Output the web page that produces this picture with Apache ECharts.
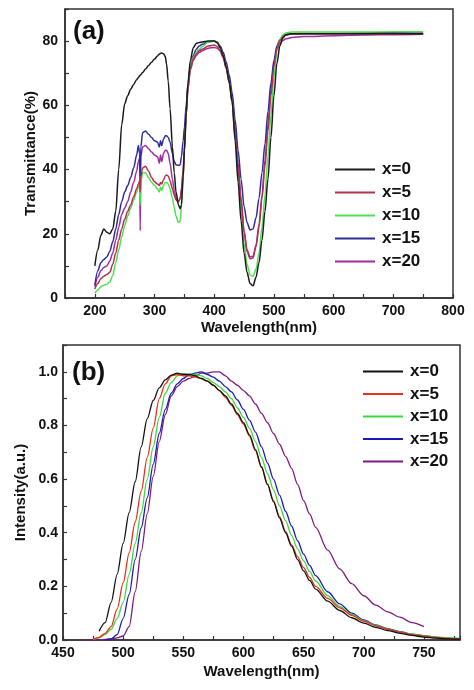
<!DOCTYPE html>
<html><head><meta charset="utf-8">
<script src="https://cdn.jsdelivr.net/npm/echarts@6/dist/echarts.min.js"></script>
<style>html,body{margin:0;padding:0;background:#fff}#c{width:474px;height:690px}</style>
</head><body><div id="c"></div>
<script>
// ---------- Panel (a): transmittance ----------
var wlA = [200,205,210,215,220,225,230,235,240,245,250,255,260,265,270,273,275,276,277,280,285,290,295,300,305,308,310,312,315,318,320,323,326,330,333,336,340,343,345,348,350,353,356,360,365,370,375,380,390,400,405,410,415,420,425,430,435,440,445,450,455,460,465,470,475,480,485,490,495,500,505,510,515,520,530,550,600,650,700,750];
var tA_x0 = [10,15,19.5,21.5,20.5,20,21.5,27,40,54,60.5,63,65,66.5,68,68.7,69.2,69.4,69.6,70.2,71.3,72.4,73.4,74.4,75.4,75.9,76.2,76.3,76.1,75.2,73,67.5,59,47,39,33,29,27.8,29,38,46,58,67,74,78,79.3,79.6,79.7,80,80,79.5,78,75.5,72,67.5,61,49,36,24,14,8,4.5,3.8,6.5,11,18,27,37,50,63,73,78.5,81,82,82.3,82.3,82.3,82.3,82.4,82.3];
var tA_x5 = [2.8,4.5,6,6.8,7.3,8,10.5,14,18,21.5,24.5,27,29,31.5,34,35.5,36.5,33,37.5,40.5,41,39.5,37.5,36.2,35.5,35,36,35.5,36.8,38,38.3,38,36.5,34,32,30.5,30,31,33,39,46,57,65.5,71.5,74.5,76,77,77.5,78.5,78.8,78.3,77,74.8,71.5,67,61,51,40,30,20.5,14.5,12.2,12.5,16,22,31,41,52,63,72,77.5,80,81.3,82,82.2,82.3,82.3,82.3,82.3,82.3];
var tA_x10 = [1.5,2.5,3.5,4,4.3,5,7,11,15,19,22.5,25.5,28,30.5,33,34.5,35.5,29,36,39,39,37.5,36,35,34,33,34.5,33.5,35,36,36,35.5,34,31,28,25.5,23.5,24,28,37,45,57,66,72,75,76.5,77.5,78.3,79.8,80,79.5,78,75.5,72,67.5,61,50,38,27,17,10.5,7.2,6.8,9,14,22,32,44,57,69,77,80.5,82,82.5,82.8,82.8,82.8,82.8,82.9,82.9];
var tA_x15 = [4,8.5,11,12,12.8,14.5,17.5,21.5,26,30,33,35,37.5,40.5,44.5,47.5,45,38,47,51.5,52,51,50,49,48.5,47,49,47.5,49.5,50.5,50.5,50,48.5,45,42.5,41.5,41.3,41.5,44,49,53,60,66.5,72,75.5,77.5,78.5,79,79.8,80,79.7,78.5,76.5,73.5,69.5,64,55.5,46,37,28.5,23.5,21.2,21.5,25,31,39,48,58,67,74,78.5,80.5,81.5,82,82.3,82.4,82.4,82.5,82.5,82.5];
var tA_x20 = [3.5,6.5,8.5,9.5,10,11.5,14,18,22,26,28,30,33,36,39.5,42.5,43.5,21,44,47,47.5,46.5,45.5,44.5,44,42,44.5,42.5,45,46,46,45,42,37,33.5,31,30,31,34,40,47,57,65,71,74,75.5,76.5,77,77.8,78,77.8,77,75,72,68,62.5,53,42,31,21,15,12.8,13,16.5,23,32,43,54,65,73,77.5,79.3,80.2,80.7,81.1,81.4,81.7,81.9,82,82.1];

// ---------- Panel (b): intensity ----------
var wlB = [470,475,480,485,490,495,500,505,510,515,520,525,530,535,540,545,550,555,560,565,570,575,580,585,590,595,600,605,610,615,620,625,630,635,640,645,650,655,660,670,680,690,700,710,720,730,740,750,760,770,780];
var iB_x0 = [null,null,0.033,0.065,0.14,0.245,0.36,0.475,0.59,0.72,0.825,0.893,0.94,0.97,0.988,0.995,0.99,0.99,0.985,0.975,0.965,0.95,0.93,0.91,0.88,0.845,0.81,0.765,0.71,0.645,0.58,0.515,0.455,0.4,0.35,0.3,0.258,0.222,0.19,0.145,0.11,0.083,0.063,0.047,0.035,0.025,0.017,0.011,0.007,0.004,0.003];
var iB_x5 = [null,0.003,0.01,0.025,0.05,0.115,0.213,0.325,0.44,0.555,0.68,0.79,0.9,0.955,0.985,0.99,0.985,0.985,0.98,0.975,0.965,0.95,0.93,0.905,0.875,0.84,0.805,0.76,0.705,0.645,0.58,0.52,0.46,0.405,0.355,0.31,0.27,0.233,0.2,0.155,0.12,0.092,0.07,0.053,0.04,0.029,0.02,0.014,0.009,0.006,0.004];
var iB_x10 = [null,0.002,0.008,0.02,0.04,0.08,0.14,0.245,0.36,0.475,0.6,0.72,0.83,0.92,0.96,0.985,0.993,0.99,0.99,0.985,0.975,0.96,0.945,0.925,0.9,0.865,0.83,0.79,0.74,0.68,0.62,0.56,0.5,0.445,0.39,0.34,0.295,0.255,0.22,0.165,0.125,0.095,0.072,0.054,0.04,0.03,0.022,0.016,0.011,0.008,0.006];
var iB_x15 = [null,null,null,0,0.004,0.02,0.08,0.17,0.3,0.418,0.53,0.655,0.77,0.86,0.92,0.955,0.975,0.99,0.995,1.0,0.99,0.98,0.965,0.945,0.925,0.895,0.86,0.82,0.775,0.72,0.66,0.6,0.54,0.48,0.425,0.37,0.32,0.278,0.24,0.18,0.135,0.1,0.075,0.056,0.042,0.031,0.022,0.016,0.011,0.007,0.005];
var iB_x20 = [0,0,0.001,0.002,0.004,0.008,0.015,0.05,0.18,0.33,0.47,0.61,0.74,0.84,0.91,0.945,0.965,0.975,0.985,0.995,0.995,1.0,1.0,0.985,0.965,0.95,0.93,0.91,0.88,0.845,0.81,0.77,0.73,0.685,0.64,0.58,0.52,0.47,0.42,0.335,0.265,0.21,0.165,0.13,0.105,0.085,0.065,0.05,null,null,null];

var names = ['x=0','x=5','x=10','x=15','x=20'];
var colorsA = ['#1a1a1a','#b3304e','#4fe04f','#2c2c9c','#a02ca0'];
var colorsB = ['#111111','#e8301c','#3cd83c','#1a1ab4','#7e1a80'];
var seriesA = [tA_x0,tA_x5,tA_x10,tA_x15,tA_x20];
var seriesB = [iB_x0,iB_x5,iB_x10,iB_x15,iB_x20];

var FF = '"Liberation Sans", Arial, sans-serif';
function pairs(xs, ys){ var out=[]; for(var i=0;i<xs.length;i++){ if(ys[i]!==null) out.push([xs[i], ys[i]]); } return out; }

var series = [];
for (var k=0;k<5;k++){
  series.push({type:'line', name:'a:'+names[k], xAxisIndex:0, yAxisIndex:0, data:pairs(wlA, seriesA[k]),
    symbol:'none', smooth:0.3, smoothMonotone:'x', lineStyle:{width:1.5, color:colorsA[k]}, itemStyle:{color:colorsA[k]}, z: 10-k});
}
for (var k=0;k<5;k++){
  series.push({type:'line', name:'b:'+names[k], xAxisIndex:1, yAxisIndex:1, data:pairs(wlB, seriesB[k]),
    symbol:'none', smooth:0.3, smoothMonotone:'x', lineStyle:{width:1.3, color:colorsB[k]}, itemStyle:{color:colorsB[k]}, z: 10-k});
}

var axisCommon = {
  axisLine:{show:true, onZero:false, lineStyle:{color:'#333', width:1.5}},
  axisTick:{show:true, inside:true, length:4, lineStyle:{color:'#333', width:1.2}},
  splitLine:{show:false},
  nameMoveOverlap:false,
  nameTextStyle:{fontSize:15, fontWeight:'bold', color:'#111', fontFamily:FF},
};
function lab(fmt, margin){ return {show:true, fontSize:14, fontWeight:'bold', color:'#111', fontFamily:FF, margin:margin, formatter:fmt, showMinLabel:true, showMaxLabel:true}; }

var option = {
  animation:false,
  backgroundColor:'#fff',
  textStyle:{fontFamily:FF},
  title:[
    {text:'(a)', left:73, top:19, padding:0, textStyle:{fontSize:26, fontWeight:'bold', color:'#111', fontFamily:FF}},
    {text:'(b)', left:72, top:360, padding:0, textStyle:{fontSize:26, fontWeight:'bold', color:'#111', fontFamily:FF}}
  ],
  grid:[
    {left:65, top:9, width:388, height:289, show:true, borderColor:'#333', borderWidth:1.5, backgroundColor:'transparent'},
    {left:63, top:345, width:397, height:295, show:true, borderColor:'#333', borderWidth:1.5, backgroundColor:'transparent'}
  ],
  xAxis:[
    Object.assign({}, axisCommon, {type:'value', gridIndex:0, min:150, max:800, interval:50,
      name:'Wavelength(nm)', nameLocation:'middle', nameGap:22,
      axisLabel:lab(function(v){ return (v%100===0 && v>=200) ? String(v) : ''; }, 6)}),
    Object.assign({}, axisCommon, {type:'value', gridIndex:1, min:450, max:780, interval:25,
      name:'Wavelength(nm)', nameLocation:'middle', nameGap:24,
      axisLabel:lab(function(v){ return (v%50===0 && v<=750) ? String(v) : ''; }, 6)})
  ],
  yAxis:[
    Object.assign({}, axisCommon, {type:'value', gridIndex:0, min:0, max:90, interval:10,
      name:'Transmittance(%)', nameLocation:'middle', nameGap:27,
      axisLabel:lab(function(v){ return (v%20===0 && v<=80) ? String(v) : ''; }, 7)}),
    Object.assign({}, axisCommon, {type:'value', gridIndex:1, min:0, max:1.1, interval:0.1,
      name:'Intensity(a.u.)', nameLocation:'middle', nameGap:35,
      axisLabel:lab(function(v){ var t=Math.round(v*10); return (t%2===0 && t<=10) ? (t/10).toFixed(1) : ''; }, 5)})
  ],
  legend:[
    {data:names.map(function(n){return 'a:'+n;}), orient:'vertical', left:335, top:161, icon:'rect', itemWidth:40, itemHeight:2, itemGap:6, padding:0, selectedMode:false,
     formatter:function(n){return n.slice(2);}, textStyle:{fontSize:17, fontWeight:'bold', color:'#111', fontFamily:FF, padding:[0,0,0,2]}},
    {data:names.map(function(n){return 'b:'+n;}), orient:'vertical', left:363, top:363, icon:'rect', itemWidth:40, itemHeight:2, itemGap:5.5, padding:0, selectedMode:false,
     formatter:function(n){return n.slice(2);}, textStyle:{fontSize:17, fontWeight:'bold', color:'#111', fontFamily:FF, padding:[0,0,0,2]}}
  ],
  series: series
};
var chart = echarts.init(document.getElementById('c'), null, {renderer:'canvas'});
chart.setOption(option);
</script>
</body></html>
